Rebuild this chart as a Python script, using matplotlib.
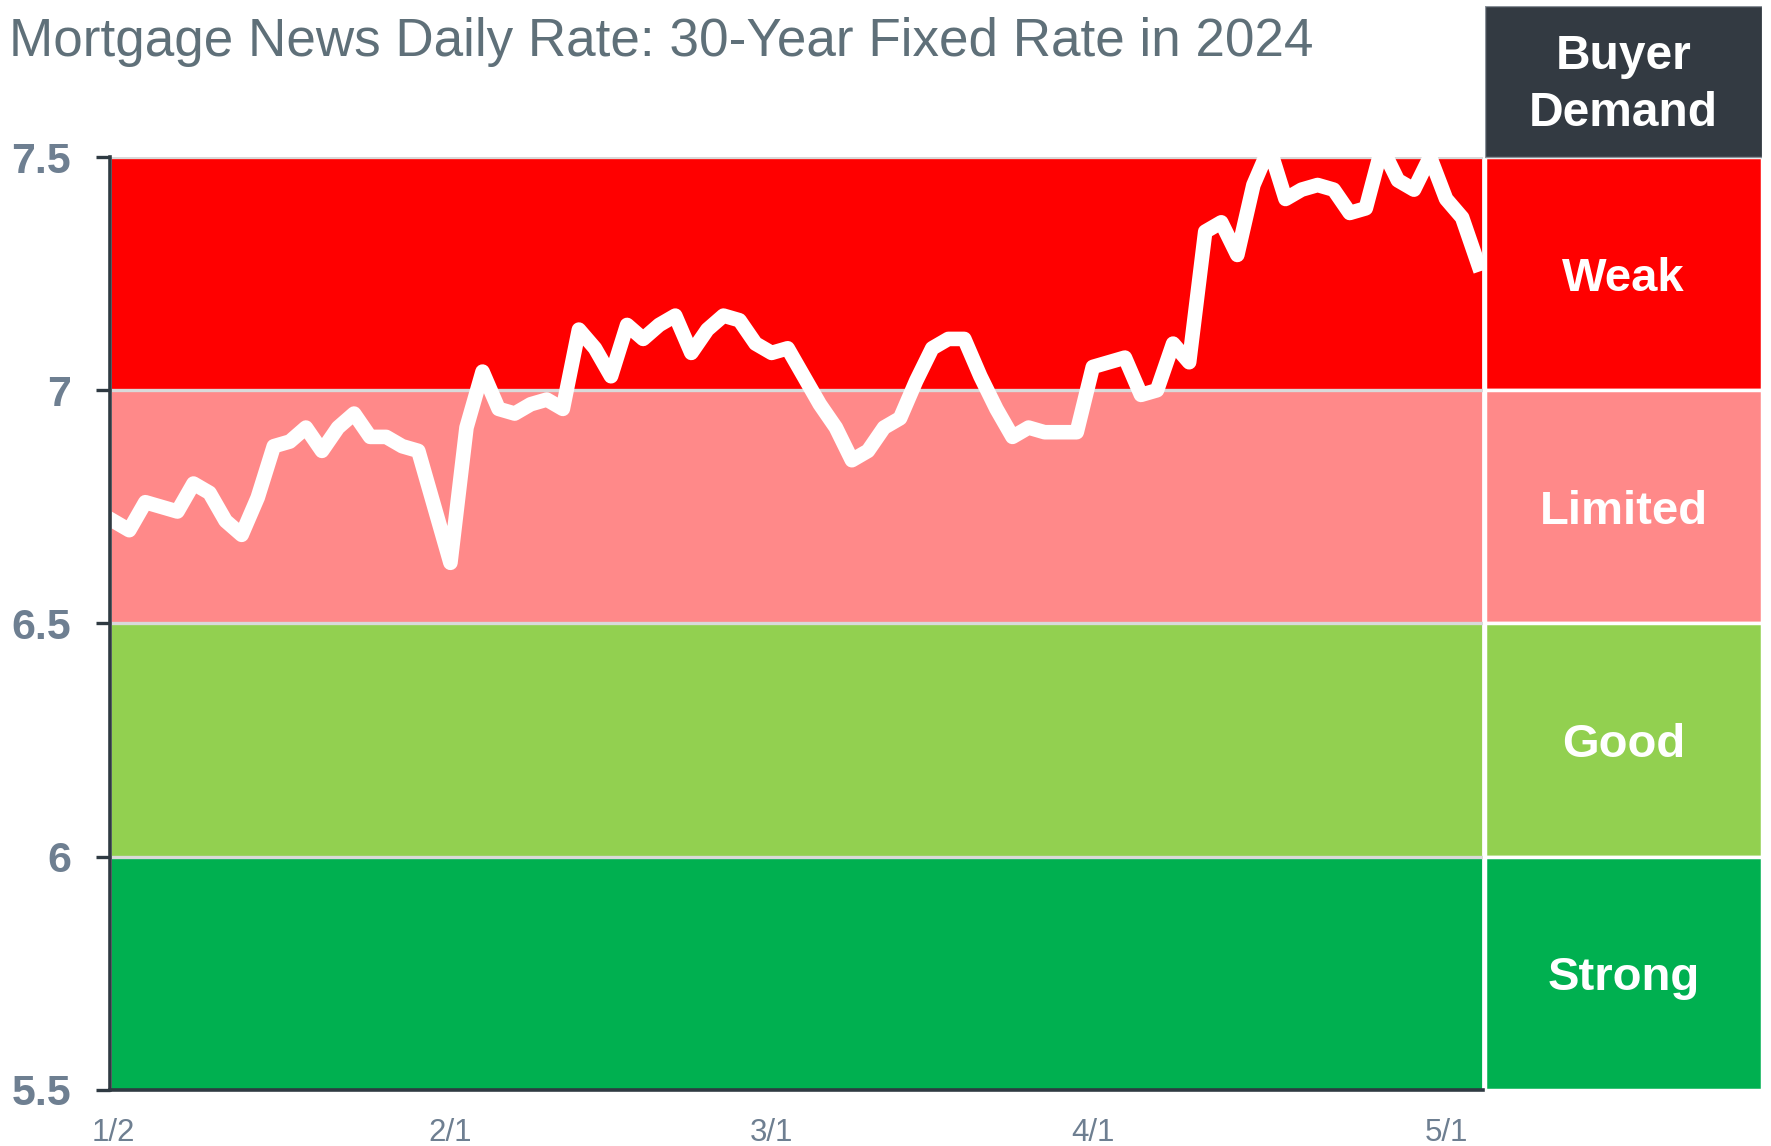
import matplotlib
matplotlib.use("Agg")
import matplotlib.pyplot as plt

plt.rcParams['font.family'] = ['Liberation Sans', 'DejaVu Sans']

# daily 30-year fixed rate, Jan 2 - May 3 2024
rates = [6.72, 6.70, 6.76, 6.75, 6.74, 6.80, 6.78, 6.72, 6.69, 6.77,
         6.88, 6.89, 6.92, 6.87, 6.92, 6.95, 6.90, 6.90, 6.88, 6.87,
         6.75, 6.63, 6.92, 7.04, 6.96, 6.95, 6.97, 6.98, 6.96, 7.13,
         7.09, 7.03, 7.14, 7.11, 7.14, 7.16, 7.08, 7.13, 7.16, 7.15,
         7.10, 7.08, 7.09, 7.03, 6.97, 6.92, 6.85, 6.87, 6.92, 6.94,
         7.02, 7.09, 7.11, 7.11, 7.03, 6.96, 6.90, 6.92, 6.91, 6.91,
         6.91, 7.05, 7.06, 7.07, 6.99, 7.00, 7.10, 7.06, 7.34, 7.36,
         7.29, 7.44, 7.52, 7.41, 7.43, 7.44, 7.43, 7.38, 7.39, 7.52,
         7.45, 7.43, 7.50, 7.41, 7.37, 7.27]

tick_idx = [0, 21, 41, 61, 83]
tick_labels = ['1/2', '2/1', '3/1', '4/1', '5/1']

band_lo = [7.0, 6.5, 6.0, 5.5]
band_hi = [7.5, 7.0, 6.5, 6.0]
band_names = ['Weak', 'Limited', 'Good', 'Strong']
band_colors = ['#ff0000', '#ff8989', '#92d050', '#00b050']

y_ticks = [5.5, 6, 6.5, 7, 7.5]
y_labels = ['5.5', '6', '6.5', '7', '7.5']

dark = '#2f3a42'
grey_txt = '#6e7f91'

fig = plt.figure(figsize=(17.71, 11.46), dpi=100)
ax = fig.add_axes([0.0621, 0.0489, 0.7753, 0.8141])

for lo, hi, c in zip(band_lo, band_hi, band_colors):
    ax.axhspan(lo, hi, facecolor=c, edgecolor='white', linewidth=2, zorder=1)
for y in y_ticks[1:]:
    ax.axhline(y, color='#d9d9d9', lw=2.4, zorder=2)

x = list(range(len(rates)))
ax.plot(x, rates, color='white', lw=10.5, solid_joinstyle='round', zorder=3)

ax.set_xlim(-0.2, 85.3)
ax.set_ylim(5.5, 7.5)
ax.set_yticks(y_ticks)
ax.set_yticklabels(y_labels, fontsize=31, fontweight='bold', color=grey_txt)
ax.set_xticks(tick_idx)
ax.set_xticklabels(tick_labels, fontsize=22.5, color=grey_txt)
ax.tick_params(axis='y', length=10, width=2.4, color=dark, pad=18)
ax.tick_params(axis='x', length=0, pad=20)
for s in ['top', 'right']:
    ax.spines[s].set_visible(False)
for s in ['left', 'bottom']:
    ax.spines[s].set_color(dark)
    ax.spines[s].set_linewidth(2.6)
    ax.spines[s].set_zorder(4)

# right hand "Buyer Demand" panel
rx = fig.add_axes([0.8385, 0.0489, 0.1564, 0.946])
rx.set_xlim(0, 1)
rx.set_ylim(5.5, 7.824)
rx.axis('off')
for lo, hi, c, name in zip(band_lo, band_hi, band_colors, band_names):
    rx.axhspan(lo, hi, facecolor=c, edgecolor='white', linewidth=2.5)
    rx.text(0.5, (lo + hi) / 2, name, ha='center', va='center_baseline',
            fontsize=34, fontweight='bold', color='white')
rx.axhspan(7.5, 7.824, facecolor='#333a42', edgecolor='#8a9199', linewidth=1)
rx.text(0.5, 7.655, 'Buyer\nDemand', ha='center', va='center', fontsize=34.5,
        fontweight='bold', color='white', linespacing=1.35)

fig.text(0.005, 0.963, 'Mortgage News Daily Rate: 30-Year Fixed Rate in 2024',
         fontsize=38.2, color='#5f7079', ha='left', va='center')

fig.savefig('out.png', dpi=100)
